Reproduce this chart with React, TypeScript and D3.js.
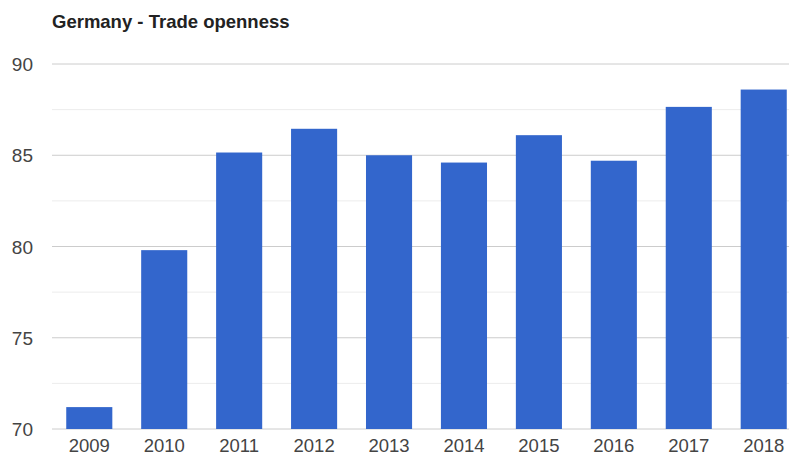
import * as d3 from "d3";

const years = ["2009", "2010", "2011", "2012", "2013", "2014", "2015", "2016", "2017", "2018"];
const openness = [71.2, 79.8, 85.15, 86.45, 85.0, 84.6, 86.1, 84.7, 87.65, 88.6];
const majorTicks = [70, 75, 80, 85, 90];
const minorTicks = [72.5, 77.5, 82.5, 87.5];

const width = 789,
  height = 457;
const margin = { top: 64, left: 52, bottom: 28 };

export default function App() {
  const yScale = d3
    .scaleLinear()
    .domain([70, 90])
    .range([height - margin.bottom, margin.top]);

  // the chart is cut off at the right edge, so the band range runs past the frame
  const xScale = d3
    .scaleBand()
    .domain(years)
    .range([margin.left, margin.left + 749])
    .paddingInner(0.385)
    .paddingOuter(0.19);

  const font = "Arial, 'Liberation Sans', sans-serif";

  return (
    <svg
      width={width}
      height={height}
      style={{ position: "absolute", left: 0, top: 0, background: "white" }}
    >
      <text x={52} y={28} fontFamily={font} fontSize={18.5} fontWeight="bold" fill="#222">
        Germany - Trade openness
      </text>
      {minorTicks.map((t) => (
        <line key={"m" + t} x1={margin.left} x2={width} y1={yScale(t)} y2={yScale(t)} stroke="#ececec" />
      ))}
      {majorTicks.map((t) => (
        <g key={t}>
          <line x1={margin.left} x2={width} y1={yScale(t)} y2={yScale(t)} stroke="#cccccc" />
          <text
            x={33}
            y={yScale(t) + 7}
            textAnchor="end"
            fontFamily={font}
            fontSize={19}
            fill="#444"
          >
            {t}
          </text>
        </g>
      ))}
      {years.map((y, i) => (
        <rect
          key={y}
          x={xScale(y)}
          y={yScale(openness[i])}
          width={xScale.bandwidth()}
          height={yScale(70) - yScale(openness[i])}
          fill="#3366cc"
        />
      ))}
      {years.map((y) => (
        <text
          key={"l" + y}
          x={(xScale(y) ?? 0) + xScale.bandwidth() / 2}
          y={452}
          textAnchor="middle"
          fontFamily={font}
          fontSize={18.5}
          fill="#444"
        >
          {y}
        </text>
      ))}
    </svg>
  );
}
